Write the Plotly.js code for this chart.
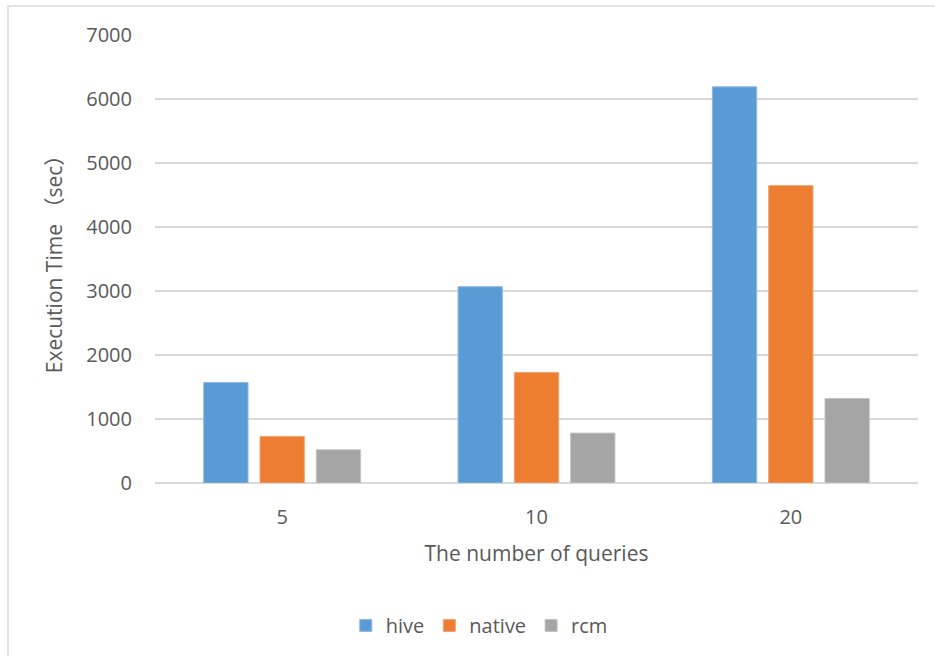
<!DOCTYPE html>
<html>
<head>
<meta charset="utf-8">
<script src="https://cdn.plot.ly/plotly-3.0.1.min.js"></script>
<style>html,body{margin:0;padding:0;background:#fff;}#chart{width:935px;height:656px;}</style>
</head>
<body>
<div id="chart"></div>
<script>
const categories = ["5", "10", "20"];
const hive = [1570, 3067, 6190];
const native = [728, 1726, 4646];
const rcm = [519, 780, 1320];
const seriesNames = ["hive", "native", "rcm"];
const yTicks = [0, 1000, 2000, 3000, 4000, 5000, 6000, 7000];

const colors = ["#5B9BD5", "#ED7D31", "#A5A5A5"];
const lineColors = ["#8DB8E3", "#F2A36E", "#C4C4C4"];
const font = "Open Sans, Noto Sans CJK SC, sans-serif";

const traces = [hive, native, rcm].map((vals, i) => ({
  type: "bar",
  name: seriesNames[i],
  x: categories,
  y: vals,
  marker: {color: colors[i], line: {color: lineColors[i], width: 1}},
  hoverinfo: "none"
}));

const layout = {
  width: 935, height: 656,
  margin: {l: 155, r: 17, t: 35, b: 172},
  paper_bgcolor: "#fff", plot_bgcolor: "#fff",
  font: {family: font, color: "#595959", size: 20},
  barmode: "group",
  bargap: 0.336,
  bargroupgap: 0.213,
  showlegend: true,
  legend: {orientation: "h", x: 0.425, xanchor: "center", y: -0.315, yanchor: "middle",
           font: {size: 20, color: "#595959"}, itemwidth: 30, traceorder: "normal"},
  xaxis: {
    type: "category",
    showgrid: false, zeroline: false, showline: false, ticks: "",
    ticklabelstandoff: 20,
    tickfont: {size: 20, color: "#595959"},
    title: {text: "The number of queries", font: {size: 21, color: "#595959"}, standoff: 17},
    automargin: false
  },
  yaxis: {
    range: [0, 7000], tickvals: yTicks, ticktext: yTicks.map(String),
    showgrid: true, gridcolor: "#D9D9D9", gridwidth: 2,
    zeroline: true, zerolinecolor: "#D9D9D9", zerolinewidth: 2,
    showline: false, ticks: "",
    ticklabelstandoff: 22,
    tickfont: {size: 20, color: "#595959"},
    title: {text: "Execution Time （sec）", font: {size: 21, color: "#595959"}, standoff: 17},
    automargin: false
  },
  shapes: [{
    type: "rect", xref: "paper", yref: "paper",
    x0: (8 - 155) / 763, x1: (945 - 155) / 763,
    y0: (484 - 670) / 449, y1: (484 - 6) / 449,
    line: {color: "#D9D9D9", width: 1.5}, fillcolor: "rgba(0,0,0,0)", layer: "below"
  }]
};

Plotly.newPlot("chart", traces, layout, {displayModeBar: false, staticPlot: true});
</script>
</body>
</html>
